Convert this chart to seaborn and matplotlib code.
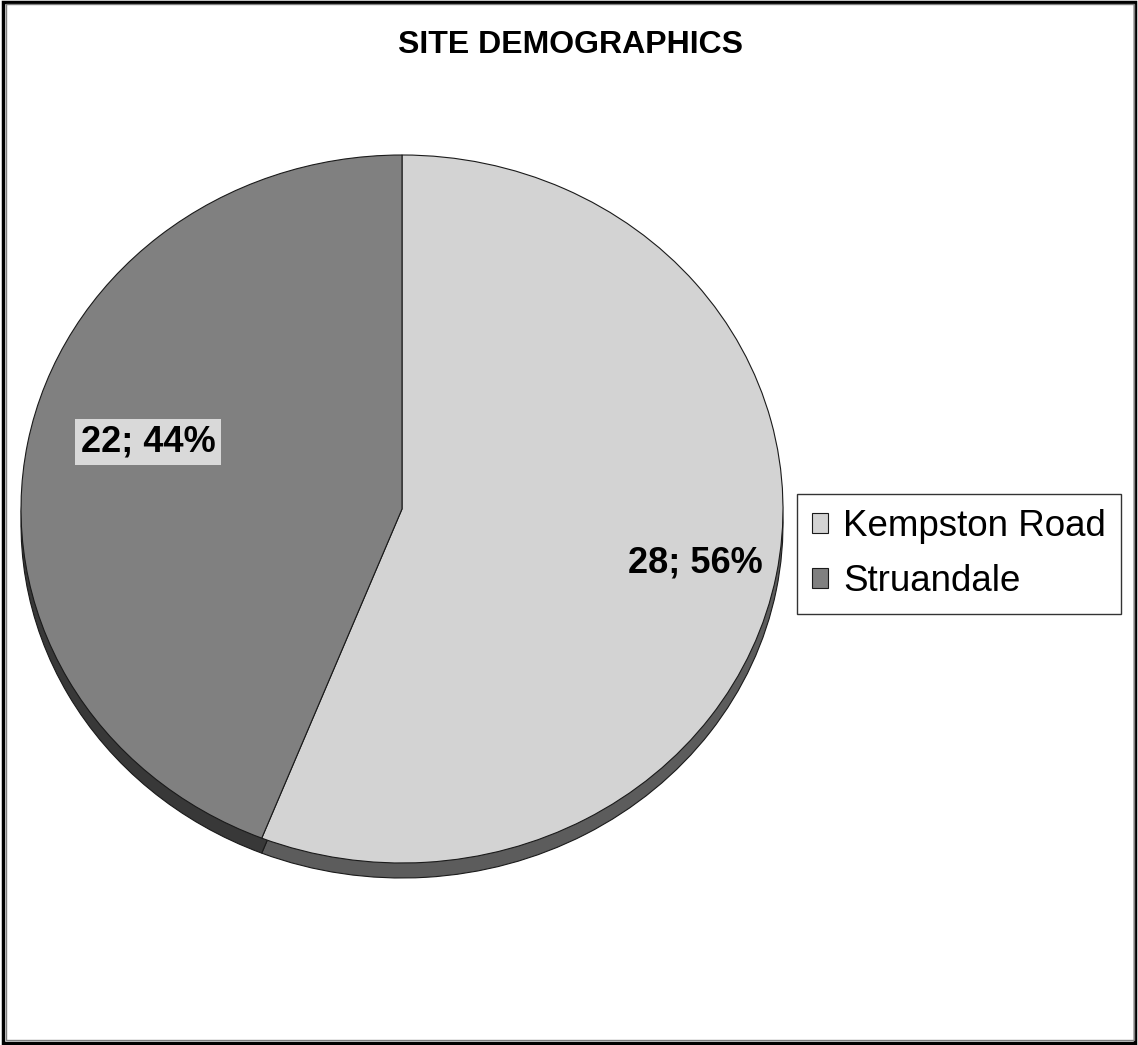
import matplotlib
matplotlib.use("Agg")
import matplotlib.pyplot as plt
from matplotlib.patches import Rectangle
import seaborn as sns

sns.set_theme(style="white")
plt.rcParams["font.family"] = ["Liberation Sans", "DejaVu Sans"]
plt.rcParams["text.color"] = "black"

# Data
sites = ["Kempston Road", "Struandale"]
counts = [28, 22]
title = "SITE DEMOGRAPHICS"

top_colors = ["#d3d3d3", "#808080"]
side_colors = ["#5c5c5c", "#383838"]

W, H = 1138, 1045
fig = plt.figure(figsize=(W / 100, H / 100), dpi=100)
fig.patch.set_facecolor("white")

# Pie centre and radii in pixels (slightly flattened, tilted pie)
cx, cy, rx, ry = 402, 509, 381, 354
depth = 15

ax = fig.add_axes([0, 0, 1, 1])
total = sum(counts)

# Side (thickness) of the tilted pie
ax.pie(counts, colors=side_colors, startangle=90, counterclock=False,
       center=(0, -depth / ry), radius=1.0,
       wedgeprops=dict(edgecolor="#1a1a1a", linewidth=0.8))

def fmt(p):
    return f"{round(p * total / 100)}; {p:.0f}%"

wedges, texts, autotexts = ax.pie(
    counts, colors=top_colors, startangle=90, counterclock=False,
    radius=1.0, autopct=fmt, pctdistance=0.74,
    wedgeprops=dict(edgecolor="#1a1a1a", linewidth=0.8),
    textprops=dict(fontsize=26, fontweight="bold", color="black"))

# Label placement (pixel positions converted to data units)
label_px = [(695, 563), (148, 442)]
for t, (px, py) in zip(autotexts, label_px):
    t.set_position(((px - cx) / rx, (cy - py) / ry))
autotexts[1].set_bbox(dict(facecolor="#d9d9d9", edgecolor="none", pad=4))

ax.set_aspect("auto")
ax.set_xlim((0 - cx) / rx, (W - cx) / rx)
ax.set_ylim((cy - H) / ry, cy / ry)
ax.axis("off")

fig.text(570 / W, 1 - 45 / H, title, ha="center", va="center",
         fontsize=23, fontweight="bold", color="black")

leg = fig.legend(wedges, sites, loc="upper left",
                 bbox_to_anchor=(797 / W, 1 - 494 / H),
                 fontsize=26.5, frameon=True, fancybox=False, shadow=False,
                 handlelength=0.45, handleheight=0.45, handletextpad=0.4,
                 labelspacing=0.55, borderpad=0.4, borderaxespad=0)
leg.get_frame().set_edgecolor("black")
leg.get_frame().set_linewidth(1.0)
for txt in leg.get_texts():
    txt.set_color("black")

# Chart area border
fig.add_artist(Rectangle((3 / W, 2 / H), (W - 6) / W, (H - 4) / H,
                         transform=fig.transFigure, fill=False,
                         edgecolor="black", linewidth=2.5))
fig.add_artist(Rectangle((6 / W, 5 / H), (W - 10) / W, (H - 9) / H,
                         transform=fig.transFigure, fill=False,
                         edgecolor="#808080", linewidth=1))

fig.savefig("out.png", dpi=100)
